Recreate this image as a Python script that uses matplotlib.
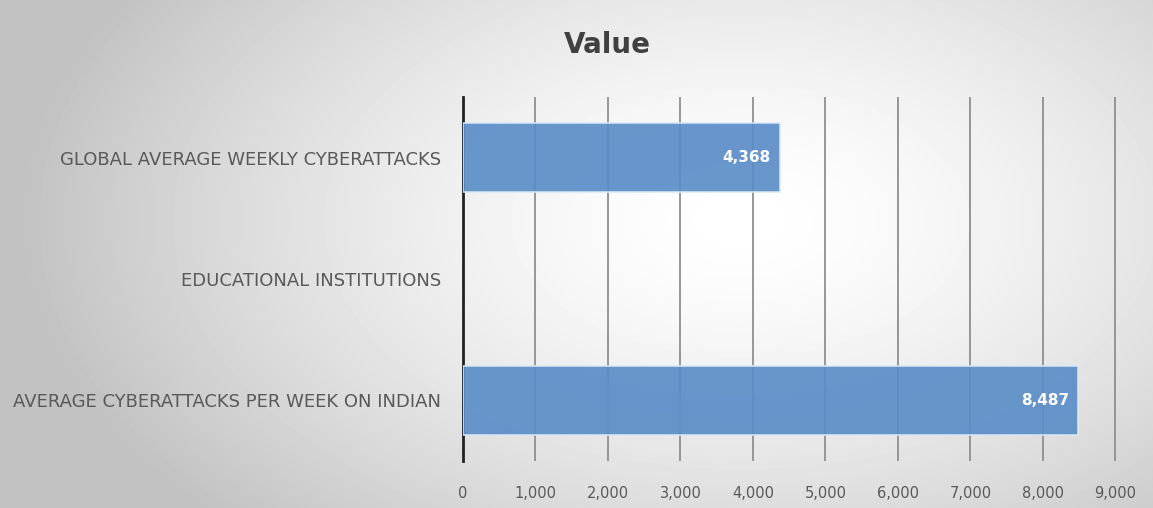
import numpy as np
import matplotlib.pyplot as plt

categories = ['GLOBAL AVERAGE WEEKLY CYBERATTACKS',
              'EDUCATIONAL INSTITUTIONS',
              'AVERAGE CYBERATTACKS PER WEEK ON INDIAN']
values = [4368, np.nan, 8487]
xticks = list(range(0, 10000, 1000))

plt.rcParams['font.family'] = ['DejaVu Sans']

fig = plt.figure(figsize=(11.53, 5.08), dpi=100)

# radial grey background
bg = fig.add_axes([0, 0, 1, 1], zorder=-10)
yy, xx = np.mgrid[0:508, 0:1153]
r = np.sqrt(((xx - 740) / 720.0) ** 2 + ((yy - 220) / 430.0) ** 2)
shade = 1.0 - 0.24 * np.clip(r, 0, 1) ** 1.5
bg.imshow(shade, cmap='gray', vmin=0, vmax=1, aspect='auto')
bg.axis('off')

ax = fig.add_axes([463 / 1153, 1 - 461 / 508, (1119 - 463) / 1153, (461 - 97) / 508])
ax.patch.set_alpha(0)

y = np.arange(len(categories))
bars = ax.barh(y, values, height=0.57, color='#5b8ec8', edgecolor='#dbe8f5',
               linewidth=1.2, alpha=0.92, zorder=3)
for b, v in zip(bars, values):
    if np.isnan(v):
        continue
    ax.text(v - 130, b.get_y() + b.get_height() / 2, f'{v:,.0f}', ha='right',
            va='center', color='white', fontsize=11, fontweight='bold', zorder=4)

ax.set_xlim(0, 9050)
ax.set_ylim(2.5, -0.5)
ax.set_xticks(xticks)
ax.set_xticklabels([f'{t:,}' for t in xticks])
ax.set_yticks(y)
ax.set_yticklabels(categories)
ax.grid(axis='x', color='#8f8f8f', linewidth=1.3, zorder=1)
for s in ['top', 'right', 'bottom']:
    ax.spines[s].set_visible(False)
ax.spines['left'].set_color('#222222')
ax.spines['left'].set_linewidth(2)
ax.tick_params(axis='x', length=0, pad=18, labelsize=10.5, labelcolor='#595959')
ax.tick_params(axis='y', length=0, pad=16, labelsize=13, labelcolor='#595959')

fig.text(607 / 1153, 1 - 45 / 508, 'Value', ha='center', va='center',
         fontsize=20, fontweight='bold', color='#404040')

fig.savefig('out.png', dpi=100)
